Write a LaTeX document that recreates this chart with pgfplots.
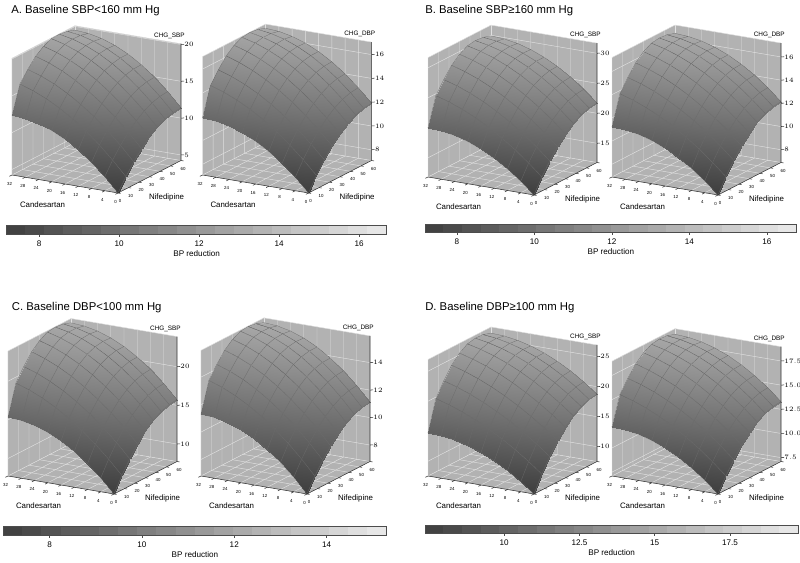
\documentclass[border=0pt]{standalone}
\usepackage{pgfplots}
\pgfplotsset{compat=1.18}
\usepackage{fontspec}
\setmainfont{Liberation Sans}

\newcommand\ttlf{\fontsize{8.5}{10}\selectfont}
\newcommand\axlf{\fontsize{5.9}{7}\selectfont}
\newcommand\zlabf{\fontsize{4.8}{6}\selectfont}
\newcommand\ztkf{\fontsize{5.3}{6}\selectfont}
\newcommand\xtkf{\fontsize{3.3}{4}\selectfont}
\newcommand\cbf{\fontsize{6.1}{7}\selectfont}

\tikzset{
 wallc/.style={fill=black!30},
 gridc/.style={draw=black!12, line width=0.35pt},
 axc/.style={draw=black!80, line width=0.4pt},
 xtk/.style={inner sep=0pt, font=\xtkf},
 ztk/.style={inner sep=0pt, font=\ztkf},
 zlab/.style={inner sep=0pt, font=\zlabf},
 axl/.style={inner sep=0pt, font=\axlf},
}

\pgfplotsset{
 s3d/.style={hide axis, clip=false, anchor=origin,
   x={(2.4844pt,-0.4219pt)}, y={(0.7875pt,0.40625pt)},
   xmin=-32, xmax=0, ymin=0, ymax=60,
   colormap={sg}{gray(0cm)=(0.24); gray(1cm)=(0.66)}},
 srf/.style={surf, shader=faceted interp, faceted color=black!58, line width=0.2pt, mesh/cols=9},
 cbar/.style={scale only axis, anchor=south west, ymin=0, ymax=1, ytick=\empty, enlargelimits=false,
   axis line style={draw=black!70, line width=0.4pt}, tick align=outside, xtick pos=left,
   major tick length=2pt, tick style={black!70, line width=0.4pt},
   xticklabel style={font=\cbf, inner sep=0pt, yshift=-3pt},
   xlabel={BP reduction},
   xlabel style={font=\cbf, inner sep=0pt, at={(axis description cs:0.5,0)}, anchor=center, yshift=-14.6pt},
   colormap={cb}{gray(0cm)=(0.24); gray(1cm)=(0.92)},
   /pgf/number format/assume math mode=true, axis on top},
 cbs/.style={surf, shader=flat mean, point meta=x, mesh/cols=21},
}

% #1 zmin, #2 zmax, #3 z ticks
\newcommand\deco[3]{%
 \fill[wallc] (axis cs:0,0,#1) -- (axis cs:-32,0,#1) -- (axis cs:-32,60,#1) -- (axis cs:0,60,#1) -- cycle;
 \fill[wallc] (axis cs:-32,0,#1) -- (axis cs:-32,60,#1) -- (axis cs:-32,60,#2) -- (axis cs:-32,0,#2) -- cycle;
 \fill[wallc] (axis cs:-32,60,#1) -- (axis cs:0,60,#1) -- (axis cs:0,60,#2) -- (axis cs:-32,60,#2) -- cycle;
 \pgfplotsinvokeforeach{4,8,...,28}{\draw[gridc] (axis cs:-##1,0,#1) -- (axis cs:-##1,60,#1) -- (axis cs:-##1,60,#2);}
 \pgfplotsinvokeforeach{10,20,...,50}{\draw[gridc] (axis cs:0,##1,#1) -- (axis cs:-32,##1,#1) -- (axis cs:-32,##1,#2);}
 \pgfplotsinvokeforeach{#3}{\draw[gridc] (axis cs:-32,0,##1) -- (axis cs:-32,60,##1) -- (axis cs:0,60,##1);}
 \draw[gridc] (axis cs:-32,0,#1) -- (axis cs:-32,0,#2) -- (axis cs:-32,60,#2) -- (axis cs:0,60,#2);
 \draw[gridc] (axis cs:-32,60,#1) -- (axis cs:-32,60,#2);
 \draw[gridc] (axis cs:-32,0,#1) -- (axis cs:-32,60,#1) -- (axis cs:0,60,#1);
}
% #1 zmin, #2 zmax, #3 z ticks, #4 z label, #5 number format
\newcommand\front[5]{%
 \draw[axc] (axis cs:-32,0,#1) -- (axis cs:0,0,#1) -- (axis cs:0,60,#1) -- (axis cs:0,60,#2);
 \pgfplotsinvokeforeach{0,4,...,32}{\draw[axc] (axis cs:-##1,0,#1) -- (axis cs:-##1,-2.5,#1);
   \node[xtk, xshift=-1.8pt, yshift=-6.6pt] at (axis cs:-##1,0,#1) {##1};}
 \pgfplotsinvokeforeach{0,10,...,60}{\draw[axc] (axis cs:0,##1,#1) -- (axis cs:0.8,##1,#1);
   \node[xtk, xshift=1.6pt, yshift=-6pt] at (axis cs:0,##1,#1) {##1};}
 \pgfplotsinvokeforeach{#3}{\draw[axc] (axis cs:0,60,##1) -- (axis cs:0.6,61,##1);
   \node[ztk, anchor=west, xshift=2.4pt] at (axis cs:0,60,##1) {\pgfmathprintnumber[#5]{##1}};}
 \node[zlab, anchor=south east, xshift=3pt, yshift=3.5pt] at (axis cs:0,60,#2) {#4};
 \node[axl, xshift=-56.6pt, yshift=-9pt] at (axis cs:0,0,#1) {Candesartan};
 \node[axl, xshift=36.4pt, yshift=-3.7pt] at (axis cs:0,0,#1) {Nifedipine};
}

\begin{document}
\begin{tikzpicture}
\useasboundingbox (0,0) rectangle (600pt,422.25pt);

\node[anchor=base west, inner sep=0pt, font=\ttlf] at (8.25pt,411.75pt) {A. Baseline SBP<160 mm Hg};
\node[anchor=base west, inner sep=0pt, font=\ttlf] at (318.75pt,412.3pt) {B. Baseline SBP≥160 mm Hg};
\node[anchor=base west, inner sep=0pt, font=\ttlf] at (8.75pt,189.2pt) {C. Baseline DBP<100 mm Hg};
\node[anchor=base west, inner sep=0pt, font=\ttlf] at (318.75pt,189.2pt) {D. Baseline DBP≥100 mm Hg};

% ---------- A1 ----------
\begin{axis}[s3d, at={(88.5pt,277.5pt)}, z={(0pt,5.525pt)}, zmin=4.25, zmax=20.1]
\deco{4.25}{20.1}{5,10,15,20}
\addplot3[srf, point meta={(z-4.25)/15.8+0.004*y}] coordinates {
(0,0,4.25) (-4,0,6.15) (-8,0,7.79) (-12,0,9.19) (-16,0,10.33) (-20,0,11.21) (-24,0,11.84) (-28,0,12.22) (-32,0,12.35)
(0,7.5,5.93) (-4,7.5,7.86) (-8,7.5,9.60) (-12,7.5,11.14) (-16,7.5,12.50) (-20,7.5,13.67) (-24,7.5,14.65) (-28,7.5,15.43) (-32,7.5,16.03)
(0,15,7.38) (-4,15,9.31) (-8,15,11.05) (-12,15,12.60) (-16,15,13.95) (-20,15,15.12) (-24,15,16.10) (-28,15,16.88) (-32,15,17.48)
(0,22.5,8.61) (-4,22.5,10.54) (-8,22.5,12.28) (-12,22.5,13.82) (-16,22.5,15.18) (-20,22.5,16.35) (-24,22.5,17.33) (-28,22.5,18.11) (-32,22.5,18.71)
(0,30,9.61) (-4,30,11.54) (-8,30,13.27) (-12,30,14.80) (-16,30,16.14) (-20,30,17.28) (-24,30,18.22) (-28,30,18.97) (-32,30,19.51)
(0,37.5,10.40) (-4,37.5,12.32) (-8,37.5,14.03) (-12,37.5,15.54) (-16,37.5,16.85) (-20,37.5,17.94) (-24,37.5,18.83) (-28,37.5,19.52) (-32,37.5,20.00)
(0,45,10.95) (-4,45,12.87) (-8,45,14.56) (-12,45,16.03) (-16,45,17.28) (-20,45,18.30) (-24,45,19.11) (-28,45,19.69) (-32,45,20.05)
(0,52.5,11.29) (-4,52.5,13.20) (-8,52.5,14.86) (-12,52.5,16.29) (-16,52.5,17.49) (-20,52.5,18.44) (-24,52.5,19.16) (-28,52.5,19.65) (-32,52.5,19.89)
(0,60,11.40) (-4,60,13.30) (-8,60,14.94) (-12,60,16.34) (-16,60,17.48) (-20,60,18.36) (-24,60,18.99) (-28,60,19.37) (-32,60,19.50)
};
\front{4.25}{20.1}{5,10,15,20}{CHG\_SBP}{fixed}
\end{axis}

% ---------- A2 ----------
\begin{axis}[s3d, at={(231.4pt,277.5pt)}, z={(0pt,8.925pt)}, zmin=7.1, zmax=17.05]
\deco{7.1}{17.05}{8,10,12,14,16}
\addplot3[srf, point meta={(z-7.1)/9.9+0.004*y}] coordinates {
(0,0,7.10) (-4,0,8.23) (-8,0,9.20) (-12,0,10.03) (-16,0,10.70) (-20,0,11.23) (-24,0,11.60) (-28,0,11.83) (-32,0,11.90)
(0,7.5,8.23) (-4,7.5,9.37) (-8,7.5,10.40) (-12,7.5,11.33) (-16,7.5,12.14) (-20,7.5,12.84) (-24,7.5,13.43) (-28,7.5,13.91) (-32,7.5,14.28)
(0,15,9.20) (-4,15,10.34) (-8,15,11.38) (-12,15,12.30) (-16,15,13.11) (-20,15,13.81) (-24,15,14.40) (-28,15,14.88) (-32,15,15.25)
(0,22.5,10.03) (-4,22.5,11.17) (-8,22.5,12.20) (-12,22.5,13.13) (-16,22.5,13.94) (-20,22.5,14.64) (-24,22.5,15.23) (-28,22.5,15.71) (-32,22.5,16.08)
(0,30,10.70) (-4,30,11.84) (-8,30,12.87) (-12,30,13.78) (-16,30,14.58) (-20,30,15.26) (-24,30,15.83) (-28,30,16.29) (-32,30,16.63)
(0,37.5,11.23) (-4,37.5,12.36) (-8,37.5,13.38) (-12,37.5,14.28) (-16,37.5,15.06) (-20,37.5,15.72) (-24,37.5,16.25) (-28,37.5,16.67) (-32,37.5,16.96)
(0,45,11.60) (-4,45,12.73) (-8,45,13.74) (-12,45,14.61) (-16,45,15.36) (-20,45,15.97) (-24,45,16.45) (-28,45,16.80) (-32,45,17.03)
(0,52.5,11.83) (-4,52.5,12.95) (-8,52.5,13.94) (-12,52.5,14.79) (-16,52.5,15.50) (-20,52.5,16.07) (-24,52.5,16.50) (-28,52.5,16.79) (-32,52.5,16.94)
(0,60,11.90) (-4,60,13.03) (-8,60,14.00) (-12,60,14.83) (-16,60,15.50) (-20,60,16.03) (-24,60,16.40) (-28,60,16.63) (-32,60,16.70)
};
\front{7.1}{17.05}{8,10,12,14,16}{CHG\_DBP}{fixed}
\end{axis}

% ---------- B1 ----------
\begin{axis}[s3d, at={(400.5pt,276pt)}, z={(0pt,4.5pt)}, zmin=11.8, zmax=31.7]
\deco{11.8}{31.7}{15,20,25,30}
\addplot3[srf, point meta={(z-11.8)/18.7+0.004*y}] coordinates {
(0,0,11.80) (-4,0,13.72) (-8,0,15.39) (-12,0,16.80) (-16,0,17.95) (-20,0,18.85) (-24,0,19.49) (-28,0,19.87) (-32,0,20.00)
(0,7.5,14.12) (-4,7.5,16.08) (-8,7.5,17.86) (-12,7.5,19.45) (-16,7.5,20.86) (-20,7.5,22.09) (-24,7.5,23.13) (-28,7.5,23.99) (-32,7.5,24.67)
(0,15,16.13) (-4,15,18.09) (-8,15,19.87) (-12,15,21.46) (-16,15,22.87) (-20,15,24.10) (-24,15,25.14) (-28,15,26.00) (-32,15,26.68)
(0,22.5,17.83) (-4,22.5,19.79) (-8,22.5,21.57) (-12,22.5,23.16) (-16,22.5,24.57) (-20,22.5,25.80) (-24,22.5,26.84) (-28,22.5,27.70) (-32,22.5,28.38)
(0,30,19.23) (-4,30,21.18) (-8,30,22.95) (-12,30,24.52) (-16,30,25.90) (-20,30,27.10) (-24,30,28.10) (-28,30,28.92) (-32,30,29.54)
(0,37.5,20.31) (-4,37.5,22.26) (-8,37.5,24.01) (-12,37.5,25.55) (-16,37.5,26.90) (-20,37.5,28.04) (-24,37.5,28.99) (-28,37.5,29.73) (-32,37.5,30.27)
(0,45,21.08) (-4,45,23.02) (-8,45,24.74) (-12,45,26.24) (-16,45,27.52) (-20,45,28.59) (-24,45,29.43) (-28,45,30.05) (-32,45,30.46)
(0,52.5,21.55) (-4,52.5,23.48) (-8,52.5,25.17) (-12,52.5,26.63) (-16,52.5,27.84) (-20,52.5,28.82) (-24,52.5,29.56) (-28,52.5,30.07) (-32,52.5,30.33)
(0,60,21.70) (-4,60,23.62) (-8,60,25.29) (-12,60,26.70) (-16,60,27.85) (-20,60,28.75) (-24,60,29.39) (-28,60,29.77) (-32,60,29.90)
};
\front{11.8}{31.7}{15,20,25,30}{CHG\_SBP}{fixed}
\end{axis}

% ---------- B2 ----------
\begin{axis}[s3d, at={(538.5pt,276pt)}, z={(0pt,8.7pt)}, zmin=6.9, zmax=17.2]
\deco{6.9}{17.2}{8,10,12,14,16}
\addplot3[srf, point meta={(z-6.9)/9.9+0.004*y}] coordinates {
(0,0,6.90) (-4,0,7.92) (-8,0,8.80) (-12,0,9.55) (-16,0,10.16) (-20,0,10.63) (-24,0,10.97) (-28,0,11.17) (-32,0,11.24)
(0,7.5,8.13) (-4,7.5,9.16) (-8,7.5,10.11) (-12,7.5,10.95) (-16,7.5,11.70) (-20,7.5,12.35) (-24,7.5,12.90) (-28,7.5,13.36) (-32,7.5,13.72)
(0,15,9.19) (-4,15,10.23) (-8,15,11.17) (-12,15,12.01) (-16,15,12.76) (-20,15,13.41) (-24,15,13.97) (-28,15,14.42) (-32,15,14.78)
(0,22.5,10.09) (-4,22.5,11.13) (-8,22.5,12.07) (-12,22.5,12.91) (-16,22.5,13.66) (-20,22.5,14.31) (-24,22.5,14.87) (-28,22.5,15.32) (-32,22.5,15.68)
(0,30,10.83) (-4,30,11.86) (-8,30,12.80) (-12,30,13.63) (-16,30,14.37) (-20,30,15.00) (-24,30,15.53) (-28,30,15.96) (-32,30,16.30)
(0,37.5,11.40) (-4,37.5,12.43) (-8,37.5,13.36) (-12,37.5,14.18) (-16,37.5,14.89) (-20,37.5,15.50) (-24,37.5,16.00) (-28,37.5,16.39) (-32,37.5,16.68)
(0,45,11.81) (-4,45,12.84) (-8,45,13.75) (-12,45,14.55) (-16,45,15.22) (-20,45,15.79) (-24,45,16.23) (-28,45,16.56) (-32,45,16.78)
(0,52.5,12.06) (-4,52.5,13.08) (-8,52.5,13.98) (-12,52.5,14.75) (-16,52.5,15.39) (-20,52.5,15.91) (-24,52.5,16.30) (-28,52.5,16.57) (-32,52.5,16.71)
(0,60,12.14) (-4,60,13.16) (-8,60,14.04) (-12,60,14.79) (-16,60,15.40) (-20,60,15.87) (-24,60,16.21) (-28,60,16.41) (-32,60,16.48)
};
\front{6.9}{17.2}{8,10,12,14,16}{CHG\_DBP}{fixed}
\end{axis}

% ---------- C1 ----------
\begin{axis}[s3d, at={(85.5pt,51.75pt)}, z={(0pt,5.8pt)}, zmin=7.74, zmax=23.9]
\deco{7.74}{23.9}{10,15,20}
\addplot3[srf, point meta={(z-7.74)/16.1+0.004*y}] coordinates {
(0,0,7.74) (-4,0,9.52) (-8,0,11.07) (-12,0,12.37) (-16,0,13.44) (-20,0,14.27) (-24,0,14.87) (-28,0,15.22) (-32,0,15.34)
(0,7.5,9.62) (-4,7.5,11.43) (-8,7.5,13.07) (-12,7.5,14.53) (-16,7.5,15.82) (-20,7.5,16.93) (-24,7.5,17.87) (-28,7.5,18.63) (-32,7.5,19.22)
(0,15,11.24) (-4,15,13.05) (-8,15,14.69) (-12,15,16.15) (-16,15,17.44) (-20,15,18.55) (-24,15,19.49) (-28,15,20.25) (-32,15,20.84)
(0,22.5,12.62) (-4,22.5,14.43) (-8,22.5,16.07) (-12,22.5,17.53) (-16,22.5,18.82) (-20,22.5,19.93) (-24,22.5,20.87) (-28,22.5,21.63) (-32,22.5,22.22)
(0,30,13.74) (-4,30,15.55) (-8,30,17.18) (-12,30,18.62) (-16,30,19.89) (-20,30,20.97) (-24,30,21.88) (-28,30,22.60) (-32,30,23.14)
(0,37.5,14.62) (-4,37.5,16.42) (-8,37.5,18.03) (-12,37.5,19.46) (-16,37.5,20.69) (-20,37.5,21.73) (-24,37.5,22.58) (-28,37.5,23.24) (-32,37.5,23.72)
(0,45,15.24) (-4,45,17.04) (-8,45,18.63) (-12,45,20.01) (-16,45,21.19) (-20,45,22.16) (-24,45,22.93) (-28,45,23.49) (-32,45,23.84)
(0,52.5,15.62) (-4,52.5,17.40) (-8,52.5,18.97) (-12,52.5,20.32) (-16,52.5,21.44) (-20,52.5,22.34) (-24,52.5,23.02) (-28,52.5,23.48) (-32,52.5,23.72)
(0,60,15.74) (-4,60,17.52) (-8,60,19.07) (-12,60,20.37) (-16,60,21.44) (-20,60,22.27) (-24,60,22.87) (-28,60,23.22) (-32,60,23.34)
};
\front{7.74}{23.9}{10,15,20}{CHG\_SBP}{fixed}
\end{axis}

% ---------- C2 ----------
\begin{axis}[s3d, at={(230.25pt,51.75pt)}, z={(0pt,10.3pt)}, zmin=6.8, zmax=15.95]
\deco{6.8}{15.95}{8,10,12,14}
\addplot3[srf, point meta={(z-6.8)/9.1+0.004*y}] coordinates {
(0,0,6.80) (-4,0,7.86) (-8,0,8.77) (-12,0,9.54) (-16,0,10.18) (-20,0,10.67) (-24,0,11.02) (-28,0,11.23) (-32,0,11.30)
(0,7.5,7.81) (-4,7.5,8.88) (-8,7.5,9.85) (-12,7.5,10.71) (-16,7.5,11.47) (-20,7.5,12.12) (-24,7.5,12.67) (-28,7.5,13.12) (-32,7.5,13.46)
(0,15,8.68) (-4,15,9.75) (-8,15,10.72) (-12,15,11.58) (-16,15,12.34) (-20,15,13.00) (-24,15,13.55) (-28,15,13.99) (-32,15,14.33)
(0,22.5,9.42) (-4,22.5,10.49) (-8,22.5,11.46) (-12,22.5,12.32) (-16,22.5,13.08) (-20,22.5,13.74) (-24,22.5,14.29) (-28,22.5,14.73) (-32,22.5,15.07)
(0,30,10.03) (-4,30,11.10) (-8,30,12.06) (-12,30,12.91) (-16,30,13.66) (-20,30,14.30) (-24,30,14.83) (-28,30,15.25) (-32,30,15.56)
(0,37.5,10.50) (-4,37.5,11.56) (-8,37.5,12.52) (-12,37.5,13.36) (-16,37.5,14.09) (-20,37.5,14.70) (-24,37.5,15.20) (-28,37.5,15.59) (-32,37.5,15.86)
(0,45,10.83) (-4,45,11.90) (-8,45,12.84) (-12,45,13.65) (-16,45,14.35) (-20,45,14.92) (-24,45,15.37) (-28,45,15.70) (-32,45,15.91)
(0,52.5,11.03) (-4,52.5,12.09) (-8,52.5,13.02) (-12,52.5,13.82) (-16,52.5,14.48) (-20,52.5,15.01) (-24,52.5,15.41) (-28,52.5,15.68) (-32,52.5,15.82)
(0,60,11.10) (-4,60,12.16) (-8,60,13.07) (-12,60,13.84) (-16,60,14.48) (-20,60,14.97) (-24,60,15.32) (-28,60,15.53) (-32,60,15.60)
};
\front{6.8}{15.95}{8,10,12,14}{CHG\_DBP}{fixed}
\end{axis}

% ---------- D1 ----------
\begin{axis}[s3d, at={(400.5pt,51.75pt)}, z={(0pt,4.5pt)}, zmin=7.53, zmax=26.95]
\deco{7.53}{26.95}{10,15,20,25}
\addplot3[srf, point meta={(z-7.53)/18.9+0.004*y}] coordinates {
(0,0,7.53) (-4,0,9.22) (-8,0,10.68) (-12,0,11.92) (-16,0,12.93) (-20,0,13.72) (-24,0,14.28) (-28,0,14.62) (-32,0,14.73)
(0,7.5,10.16) (-4,7.5,11.88) (-8,7.5,13.46) (-12,7.5,14.88) (-16,7.5,16.16) (-20,7.5,17.28) (-24,7.5,18.26) (-28,7.5,19.08) (-32,7.5,19.76)
(0,15,12.43) (-4,15,14.16) (-8,15,15.73) (-12,15,17.16) (-16,15,18.43) (-20,15,19.56) (-24,15,20.53) (-28,15,21.36) (-32,15,22.03)
(0,22.5,14.36) (-4,22.5,16.08) (-8,22.5,17.66) (-12,22.5,19.08) (-16,22.5,20.36) (-20,22.5,21.48) (-24,22.5,22.46) (-28,22.5,23.28) (-32,22.5,23.96)
(0,30,15.93) (-4,30,17.65) (-8,30,19.22) (-12,30,20.62) (-16,30,21.87) (-20,30,22.96) (-24,30,23.90) (-28,30,24.67) (-32,30,25.29)
(0,37.5,17.16) (-4,37.5,18.87) (-8,37.5,20.42) (-12,37.5,21.80) (-16,37.5,23.01) (-20,37.5,24.05) (-24,37.5,24.92) (-28,37.5,25.62) (-32,37.5,26.16)
(0,45,18.03) (-4,45,19.74) (-8,45,21.26) (-12,45,22.59) (-16,45,23.73) (-20,45,24.69) (-24,45,25.46) (-28,45,26.04) (-32,45,26.43)
(0,52.5,18.56) (-4,52.5,20.25) (-8,52.5,21.74) (-12,52.5,23.03) (-16,52.5,24.11) (-20,52.5,24.98) (-24,52.5,25.64) (-28,52.5,26.10) (-32,52.5,26.36)
(0,60,18.73) (-4,60,20.42) (-8,60,21.88) (-12,60,23.12) (-16,60,24.13) (-20,60,24.92) (-24,60,25.48) (-28,60,25.82) (-32,60,25.93)
};
\front{7.53}{26.95}{10,15,20,25}{CHG\_SBP}{fixed}
\end{axis}

% ---------- D2 ----------
\begin{axis}[s3d, at={(538.5pt,51.75pt)}, z={(0pt,7.25pt)}, zmin=7.1, zmax=18.98]
\deco{7.1}{18.98}{7.5,10,12.5,15,17.5}
\addplot3[srf, point meta={(z-7.1)/11.7+0.004*y}] coordinates {
(0,0,7.10) (-4,0,8.30) (-8,0,9.33) (-12,0,10.21) (-16,0,10.93) (-20,0,11.48) (-24,0,11.88) (-28,0,12.12) (-32,0,12.20)
(0,7.5,8.55) (-4,7.5,9.77) (-8,7.5,10.87) (-12,7.5,11.86) (-16,7.5,12.74) (-20,7.5,13.50) (-24,7.5,14.15) (-28,7.5,14.68) (-32,7.5,15.10)
(0,15,9.81) (-4,15,11.03) (-8,15,12.13) (-12,15,13.12) (-16,15,14.00) (-20,15,14.76) (-24,15,15.41) (-28,15,15.94) (-32,15,16.36)
(0,22.5,10.88) (-4,22.5,12.10) (-8,22.5,13.20) (-12,22.5,14.19) (-16,22.5,15.07) (-20,22.5,15.83) (-24,22.5,16.47) (-28,22.5,17.01) (-32,22.5,17.43)
(0,30,11.75) (-4,30,12.97) (-8,30,14.06) (-12,30,15.04) (-16,30,15.90) (-20,30,16.64) (-24,30,17.27) (-28,30,17.77) (-32,30,18.16)
(0,37.5,12.43) (-4,37.5,13.64) (-8,37.5,14.73) (-12,37.5,15.69) (-16,37.5,16.52) (-20,37.5,17.24) (-24,37.5,17.82) (-28,37.5,18.28) (-32,37.5,18.62)
(0,45,12.91) (-4,45,14.12) (-8,45,15.19) (-12,45,16.12) (-16,45,16.92) (-20,45,17.58) (-24,45,18.10) (-28,45,18.49) (-32,45,18.74)
(0,52.5,13.20) (-4,52.5,14.40) (-8,52.5,15.46) (-12,52.5,16.36) (-16,52.5,17.12) (-20,52.5,17.73) (-24,52.5,18.19) (-28,52.5,18.50) (-32,52.5,18.67)
(0,60,13.30) (-4,60,14.50) (-8,60,15.53) (-12,60,16.41) (-16,60,17.13) (-20,60,17.68) (-24,60,18.08) (-28,60,18.32) (-32,60,18.40)
};
\front{7.1}{18.98}{7.5,10,12.5,15,17.5}{CHG\_DBP}{fixed,fixed zerofill,precision=1}
\end{axis}

% ---------- colour bars ----------
\begin{axis}[cbar, at={(5pt,246.75pt)}, width=285pt, height=6.75pt, xmin=7.19, xmax=16.69, xtick={8,10,12,14,16}]
\addplot[cbs] coordinates {
(7.19,0) (7.665,0) (8.14,0) (8.615,0) (9.09,0) (9.565,0) (10.04,0) (10.515,0) (10.99,0) (11.465,0) (11.94,0) (12.415,0) (12.89,0) (13.365,0) (13.84,0) (14.315,0) (14.79,0) (15.265,0) (15.74,0) (16.215,0) (16.69,0)
(7.19,1) (7.665,1) (8.14,1) (8.615,1) (9.09,1) (9.565,1) (10.04,1) (10.515,1) (10.99,1) (11.465,1) (11.94,1) (12.415,1) (12.89,1) (13.365,1) (13.84,1) (14.315,1) (14.79,1) (15.265,1) (15.74,1) (16.215,1) (16.69,1)
};
\end{axis}

\begin{axis}[cbar, at={(318.75pt,248pt)}, width=278.8pt, height=6.2pt, xmin=7.18, xmax=16.77, xtick={8,10,12,14,16}]
\addplot[cbs] coordinates {
(7.18,0) (7.66,0) (8.14,0) (8.62,0) (9.10,0) (9.58,0) (10.06,0) (10.54,0) (11.02,0) (11.50,0) (11.98,0) (12.45,0) (12.93,0) (13.41,0) (13.89,0) (14.37,0) (14.85,0) (15.33,0) (15.81,0) (16.29,0) (16.77,0)
(7.18,1) (7.66,1) (8.14,1) (8.62,1) (9.10,1) (9.58,1) (10.06,1) (10.54,1) (11.02,1) (11.50,1) (11.98,1) (12.45,1) (12.93,1) (13.41,1) (13.89,1) (14.37,1) (14.85,1) (15.33,1) (15.81,1) (16.29,1) (16.77,1)
};
\end{axis}

\begin{axis}[cbar, at={(2.5pt,21pt)}, width=287.5pt, height=6.75pt, xmin=7.0, xmax=15.3, xtick={8,10,12,14}]
\addplot[cbs] coordinates {
(7.0,0) (7.415,0) (7.83,0) (8.245,0) (8.66,0) (9.075,0) (9.49,0) (9.905,0) (10.32,0) (10.735,0) (11.15,0) (11.565,0) (11.98,0) (12.395,0) (12.81,0) (13.225,0) (13.64,0) (14.055,0) (14.47,0) (14.885,0) (15.3,0)
(7.0,1) (7.415,1) (7.83,1) (8.245,1) (8.66,1) (9.075,1) (9.49,1) (9.905,1) (10.32,1) (10.735,1) (11.15,1) (11.565,1) (11.98,1) (12.395,1) (12.81,1) (13.225,1) (13.64,1) (14.055,1) (14.47,1) (14.885,1) (15.3,1)
};
\end{axis}

\begin{axis}[cbar, at={(318.75pt,22.3pt)}, width=280pt, height=6.2pt, xmin=7.37, xmax=19.77, xtick={10,12.5,15,17.5}]
\addplot[cbs] coordinates {
(7.37,0) (7.99,0) (8.61,0) (9.23,0) (9.85,0) (10.47,0) (11.09,0) (11.71,0) (12.33,0) (12.95,0) (13.57,0) (14.19,0) (14.81,0) (15.43,0) (16.05,0) (16.67,0) (17.29,0) (17.91,0) (18.53,0) (19.15,0) (19.77,0)
(7.37,1) (7.99,1) (8.61,1) (9.23,1) (9.85,1) (10.47,1) (11.09,1) (11.71,1) (12.33,1) (12.95,1) (13.57,1) (14.19,1) (14.81,1) (15.43,1) (16.05,1) (16.67,1) (17.29,1) (17.91,1) (18.53,1) (19.15,1) (19.77,1)
};
\end{axis}

\end{tikzpicture}
\end{document}
